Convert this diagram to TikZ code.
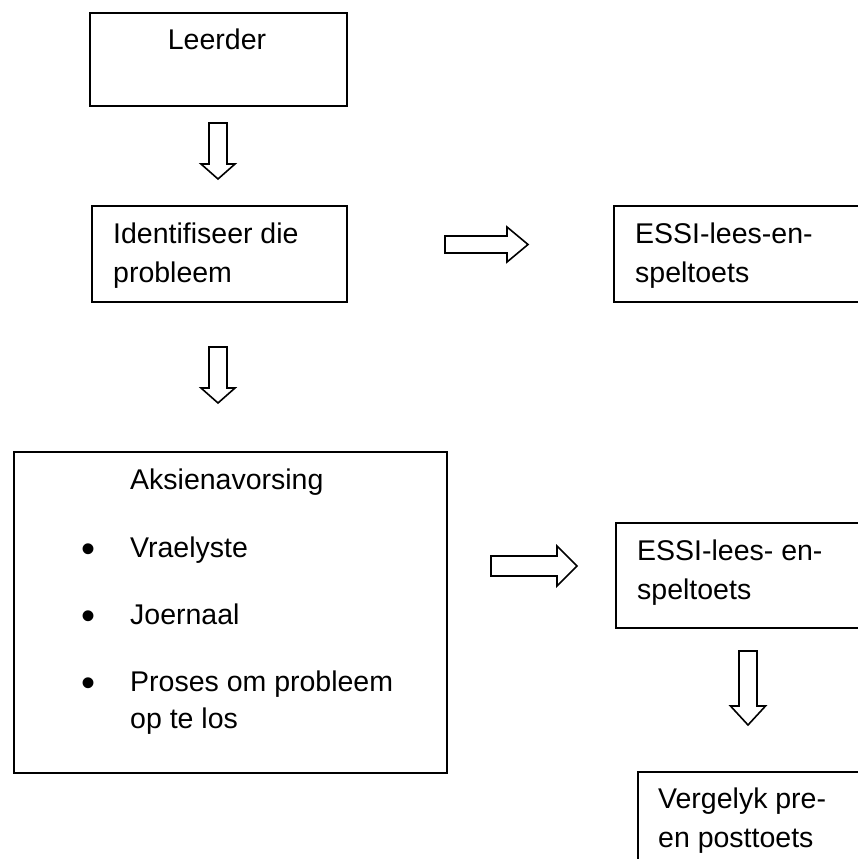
\documentclass[tikz,border=0pt]{standalone}
\usepackage{fontspec}
\setmainfont{Liberation Sans}
\begin{document}
\begin{tikzpicture}[x=1pt,y=-1pt,
  box/.style={draw=black, line width=1.7pt, inner sep=0pt, anchor=north west},
  txt/.style={inner sep=0pt, anchor=base west, font=\fontsize{28.5}{39}\selectfont},
  bullet/.style={inner sep=0pt, anchor=center, font=\fontsize{40}{40}\selectfont},
  arrowline/.style={draw=black, line width=1.6pt, line join=miter, fill=white},
  % block arrow pointing down: shaft half width, head half width, shaft length, head length
  pics/downblock/.style n args={4}{code={
    \draw[arrowline] (-#1,0) -- (#1,0) -- (#1,#3) -- (#2,#3) -- (0,#3+#4)
      -- (-#2,#3) -- (-#1,#3) -- cycle;}},
  % block arrow pointing right: shaft half height, head half height, shaft length, head length
  pics/rightblock/.style n args={4}{code={
    \draw[arrowline] (0,-#1) -- (#3,-#1) -- (#3,-#2) -- (#3+#4,0)
      -- (#3,#2) -- (#3,#1) -- (0,#1) -- cycle;}}
]
\useasboundingbox (0,0) rectangle (858,859);
\clip (0,0) rectangle (858,859);

% boxes
\node[box, minimum width=257pt, minimum height=93pt] (leerder) at (89,12) {};
\node[box, minimum width=255pt, minimum height=96pt] (ident) at (91,205) {};
\node[box, minimum width=260pt, minimum height=96pt] (essia) at (613,205) {};
\node[box, minimum width=433pt, minimum height=321pt] (aksie) at (13,451) {};
\node[box, minimum width=260pt, minimum height=105pt] (essib) at (615,522) {};
\node[box, minimum width=240pt, minimum height=110pt] (vergelyk) at (637,771) {};

% texts
\node[txt, anchor=base] (leerdert) at (217,50) {Leerder};
\node[txt] (identa) at (113,243) {Identifiseer die};
\node[txt] (identb) at (113,282) {probleem};
\node[txt] (essiaa) at (635,243) {ESSI-lees-en-};
\node[txt] (essiab) at (635,282) {speltoets};
\node[txt] (aksiet) at (130,489) {Aksienavorsing};
\node[bullet] (bula) at (89,553) {•};
\node[txt] (vrae) at (130,557) {Vraelyste};
\node[bullet] (bulb) at (89,620) {•};
\node[txt] (joern) at (130,624) {Joernaal};
\node[bullet] (bulc) at (89,687) {•};
\node[txt] (prosa) at (130,691) {Proses om probleem};
\node[txt] (prosb) at (130,728) {op te los};
\node[txt] (essiba) at (637,560) {ESSI-lees- en-};
\node[txt] (essibb) at (637,599) {speltoets};
\node[txt] (verga) at (658,808) {Vergelyk pre-};
\node[txt] (vergb) at (658,847) {en posttoets};

% block arrows
\pic (down1) at (218,123) {downblock={9}{17}{41}{15}};
\pic (down2) at (218,347) {downblock={9}{17}{41}{15}};
\pic (down3) at (748,651) {downblock={9}{17.5}{55}{19}};
\pic (right1) at (445,244.5) {rightblock={8.5}{17.5}{62}{21}};
\pic (right2) at (491,566) {rightblock={10}{20}{66}{20}};
\end{tikzpicture}
\end{document}
